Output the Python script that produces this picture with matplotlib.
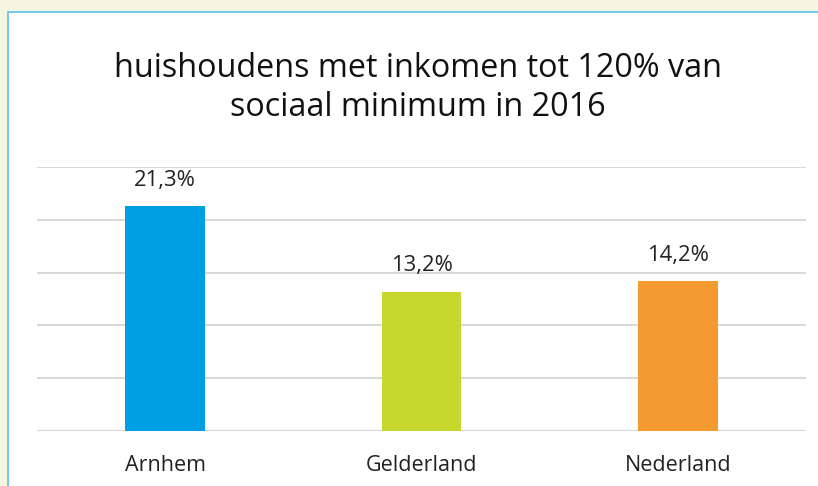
import matplotlib.pyplot as plt
from matplotlib.patches import Rectangle

# Data
regions = ["Arnhem", "Gelderland", "Nederland"]
percentages = [21.3, 13.2, 14.2]
labels = ["21,3%", "13,2%", "14,2%"]
colors = ["#009FE3", "#C8D72E", "#F39A31"]

plt.rcParams['font.family'] = ['Open Sans', 'DejaVu Sans']

fig = plt.figure(figsize=(8.18, 4.86), dpi=100)
fig.patch.set_facecolor("#F7F7E1")

# White panel with thin blue border (drawn on a background axes)
bg = fig.add_axes([0, 0, 1, 1], zorder=-1)
bg.set_axis_off()
bg.add_patch(Rectangle((8 / 818, -0.01), 1.0, (486 - 12) / 486 + 0.01,
                       transform=bg.transAxes, facecolor="white",
                       edgecolor="#5BC0EB", linewidth=1.2, clip_on=False))

ax = fig.add_axes([37 / 818, 55 / 486, 769 / 818, 264 / 486])
ax.set_facecolor("none")

x = range(len(regions))
ax.bar(x, percentages, width=0.31, color=colors, zorder=3)

for i, (v, lab) in enumerate(zip(percentages, labels)):
    ax.annotate(lab, (i, v), xytext=(0, 11), textcoords="offset points",
                ha="center", va="bottom", fontsize=15.8, color="#222222")

ax.set_xlim(-0.5, 2.5)
ax.set_ylim(0, 25)
ax.set_yticks([0, 5, 10, 15, 20, 25])
ax.yaxis.grid(True, color="#D9D9D9", linewidth=1.5, zorder=0)
ax.tick_params(axis="y", left=False, labelleft=False)
ax.tick_params(axis="x", bottom=False, pad=14, labelsize=15.5, labelcolor="#222222")
ax.set_xticks(list(x))
ax.set_xticklabels(regions)
for s in ax.spines.values():
    s.set_visible(False)
ax.axhline(0, color="#D9D9D9", linewidth=2.2, zorder=2)

fig.text(0.511, 0.819, "huishoudens met inkomen tot 120% van\nsociaal minimum in 2016",
         ha="center", va="center", fontsize=23.3, color="#111111", linespacing=1.22)

fig.savefig("out.png", dpi=100, facecolor=fig.get_facecolor())
